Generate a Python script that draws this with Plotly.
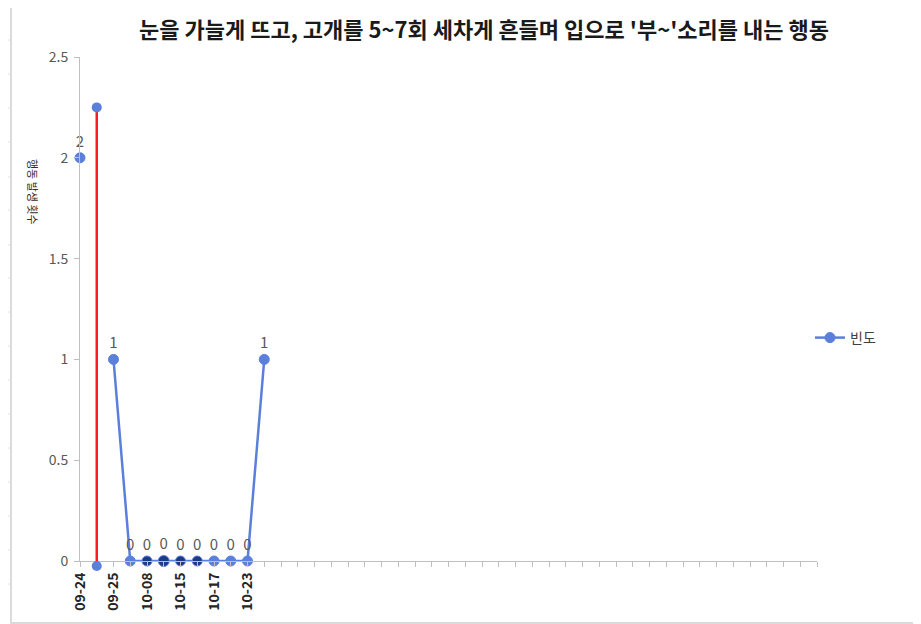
import plotly.graph_objects as go

# ---- data ----
title_text = "눈을 가늘게 뜨고, 고개를 5~7회 세차게 흔들며 입으로 '부~'소리를 내는 행동"
y_title = "행동 발생 횟수"
series_name = "빈도"
shown_labels = ["09-24", "", "09-25", "", "10-08", "", "10-15", "", "10-17", "", "10-23"]
n_categories = 45
tick_labels = shown_labels + [""] * (n_categories - len(shown_labels))
freq = [2, None, 1, 0, 0, 0, 0, 0, 0, 0, 0, 1]
dark_points = [4, 5, 6, 7]
phase_x = [1, 1]
phase_y = [-0.025, 2.25]
y_max = 2.5

BLUE = "#5a80dc"
DARK = "#1d3a86"
RED = "#ff1a1a"
GRAY_TXT = "#595959"

OFF = 8  # page body offset
EXT = 12  # extra px below the x axis for the phase-line marker
W, H = 921 - OFF, 624 - OFF
L = 80 - OFF
T = 57 - OFF
R = W - (817 - OFF)
B = H - (561 + EXT - OFF)
pw, ph = W - L - R, H - T - B
unit_px = (561 - 57) / y_max


def px(x):
    return (x - OFF - L) / pw


def py(y):
    return (561 + EXT - y) / ph


x_idx = list(range(len(freq)))
colors = [DARK if i in dark_points else BLUE for i in x_idx]
sizes = [11 if i == 5 else 10 for i in x_idx]
texts = ["" if v is None else str(v) for v in freq]

fig = go.Figure()
fig.add_trace(go.Scatter(
    x=phase_x, y=phase_y, mode="lines+markers", yaxis="y2",
    line=dict(color=RED, width=2.5),
    marker=dict(color=BLUE, size=10, opacity=1),
    showlegend=False, cliponaxis=False, hoverinfo="skip",
))
fig.add_trace(go.Scatter(
    x=x_idx, y=freq, mode="lines+markers+text", name=series_name,
    line=dict(color=BLUE, width=2.5),
    marker=dict(color=colors, size=sizes, opacity=1),
    text=texts, textposition="top center",
    textfont=dict(size=15, color=GRAY_TXT, family="Noto Sans CJK KR"),
    connectgaps=False, cliponaxis=False,
))

shapes = []
# chart border
shapes.append(dict(type="rect", xref="paper", yref="paper",
                   x0=px(11), x1=px(916), y0=py(623), y1=py(7),
                   line=dict(color="#cfcfcf", width=1.5), layer="below"))
# spreadsheet cell lines outside chart
for gx in [60, 155, 250, 344, 438, 532, 627, 722, 817]:
    shapes.append(dict(type="line", xref="paper", yref="paper",
                       x0=px(gx), x1=px(gx), y0=py(OFF), y1=py(7),
                       line=dict(color="#e2e2e2", width=1)))
for gy in [40, 74, 108, 142, 177, 210, 245, 278, 312, 346, 380, 414, 448, 482, 516, 550, 584]:
    shapes.append(dict(type="line", xref="paper", yref="paper",
                       x0=px(OFF), x1=px(10), y0=py(gy), y1=py(gy),
                       line=dict(color="#e2e2e2", width=1)))

fig.update_layout(
    width=W, height=H,
    margin=dict(l=L, r=R, t=T, b=B),
    paper_bgcolor="white", plot_bgcolor="rgba(0,0,0,0)",
    font=dict(family="Noto Sans CJK KR", color=GRAY_TXT),
    title=dict(text="<b>" + title_text + "</b>", x=(484 - OFF) / W, xanchor="center",
               y=1 - (30 - OFF) / H, yanchor="middle",
               font=dict(size=22, color="#1a1a1a", family="Noto Sans CJK KR")),
    xaxis=dict(range=[0, n_categories - 1], tickmode="array", anchor="y",
               tickvals=list(range(n_categories)), ticktext=tick_labels,
               tickangle=-90, ticks="outside", ticklen=5, tickcolor="#bfbfbf",
               showline=True, linecolor="#bfbfbf", linewidth=1,
               showgrid=False, zeroline=False,
               tickfont=dict(size=14, color="#262626", family="Noto Sans CJK KR", weight="bold")),
    yaxis=dict(range=[0, y_max], domain=[EXT / ph, 1], anchor="x",
               tickvals=[0, 0.5, 1, 1.5, 2, 2.5],
               ticktext=["0", "0.5", "1", "1.5", "2", "2.5"],
               ticks="outside", ticklen=5, tickcolor="#bfbfbf",
               showline=True, linecolor="#bfbfbf", linewidth=1,
               showgrid=False, zeroline=False, ticklabelstandoff=3,
               tickfont=dict(size=14, color=GRAY_TXT)),
    yaxis2=dict(range=[-EXT / unit_px, y_max], domain=[0, 1], anchor="x",
                visible=False, showgrid=False, zeroline=False),
    legend=dict(x=px(810), y=py(338), xanchor="left", yanchor="middle",
                font=dict(size=14, color="#404040"), itemwidth=30,
                bgcolor="rgba(0,0,0,0)"),
    shapes=shapes,
    annotations=[dict(text=y_title, textangle=90, xref="paper", yref="paper",
                      x=px(33), y=py(192), xanchor="center", yanchor="middle",
                      showarrow=False,
                      font=dict(size=11, color="#3b2a1a"))],
)

fig.write_html("out.html")
